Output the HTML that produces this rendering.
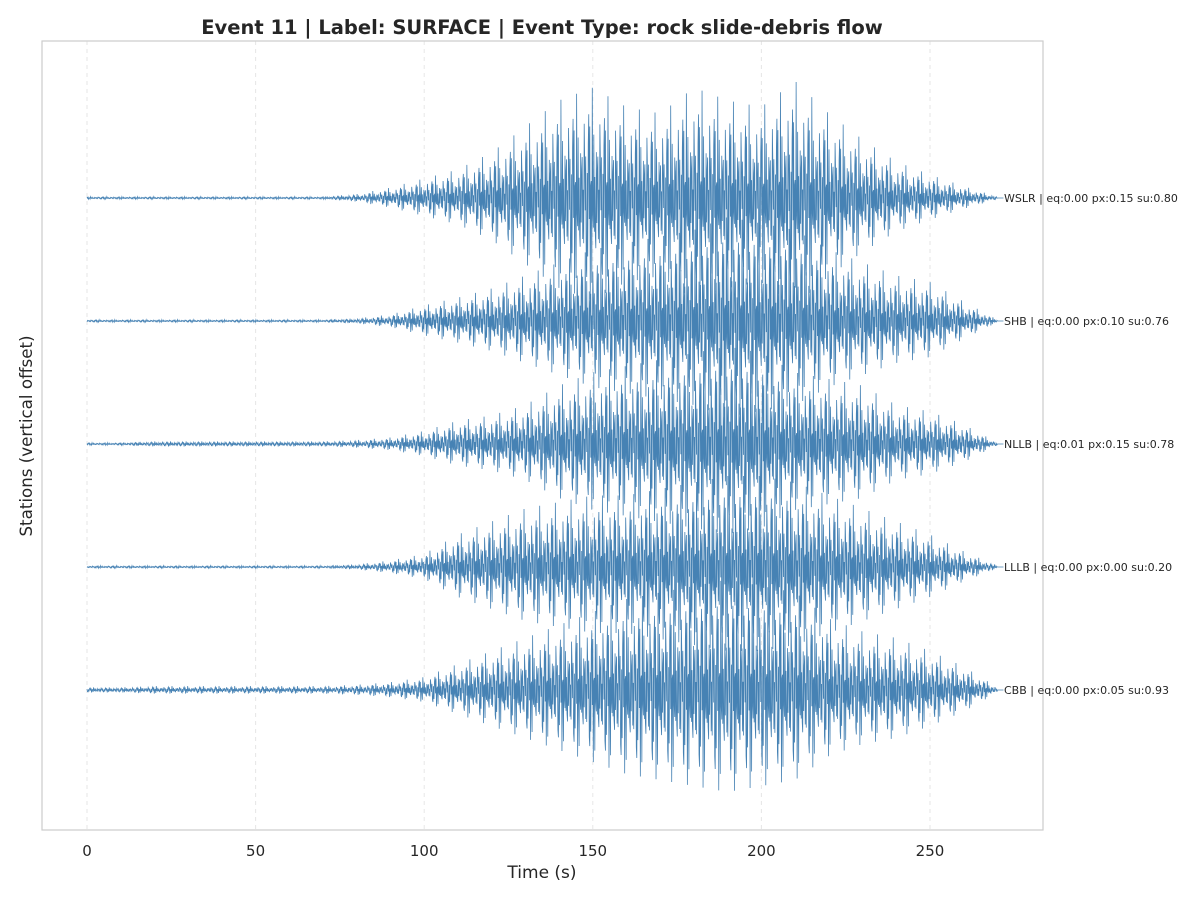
<!DOCTYPE html>
<html><head><meta charset="utf-8"><style>
body{margin:0;background:#fff;}
svg text{font-family:"DejaVu Sans","Liberation Sans",sans-serif;fill:#262626;}
</style></head><body>
<svg id="chart" width="1200" height="900" viewBox="0 0 1200 900" xmlns="http://www.w3.org/2000/svg">
<rect x="0" y="0" width="1200" height="900" fill="#fff"/>
<g id="grid"></g>
<g id="traces"></g>
<rect x="42" y="41" width="1001" height="789" fill="none" stroke="#cccccc" stroke-width="1.2"/>
<g id="labels"></g>
<g id="xticks"></g>
<text x="542" y="34" text-anchor="middle" font-size="19.5" font-weight="bold">Event 11 | Label: SURFACE | Event Type: rock slide-debris flow</text>
<text x="542" y="878" text-anchor="middle" font-size="17">Time (s)</text>
<text transform="translate(32,436) rotate(-90)" text-anchor="middle" font-size="16.7">Stations (vertical offset)</text>
</svg>
<script>
// envelope half-amplitudes (px) sampled every 10 s from 0 to 270 s
const stations = ["WSLR","SHB","NLLB","LLLB","CBB"];
const stationLabels = ["WSLR | eq:0.00 px:0.15 su:0.80","SHB | eq:0.00 px:0.10 su:0.76","NLLB | eq:0.01 px:0.15 su:0.78","LLLB | eq:0.00 px:0.00 su:0.20","CBB | eq:0.00 px:0.05 su:0.93"];
const envTimes = [0,10,20,30,40,50,60,70,80,90,100,110,120,130,140,150,160,170,180,190,200,210,220,230,240,250,260,270];
const envWSLR = [1,1,1,1,1,1,1,1,3,8,15,22,35,55,75,85,70,65,85,75,70,90,65,45,28,18,9,1];
const envSHB  = [1,1,1,1,1,1,1,1,2,5,12,18,25,35,45,55,60,65,70,80,75,70,55,45,35,30,15,1];
const envNLLB = [1,1,2,2,2,2,2,2,3,5,10,18,22,30,45,55,60,65,70,75,70,55,50,45,30,25,15,1];
const envLLLB = [1,1,1,1,1,1,1,1,2,5,10,25,35,45,50,55,55,60,65,70,70,65,55,45,35,25,12,1];
const envCBB  = [2,2,3,3,3,3,3,3,4,6,10,20,30,40,50,60,70,75,80,85,80,75,55,45,40,30,18,2];
const envs = [envWSLR,envSHB,envNLLB,envLLLB,envCBB];
const xTicks = [0,50,100,150,200,250];

const NS="http://www.w3.org/2000/svg";
const xs = t => 87 + t*(930-87)/250;
const ys = i => 198 + i*123;
function env(e,t){const k=Math.min(Math.floor(t/10),e.length-2);const f=(t-envTimes[k])/10;return e[k]*(1-f)+e[k+1]*f;}
const pattern=[1,-0.35,0.5,-0.95,0.2,-0.6,0.45,-0.25,0.75,-0.5,0.3,-1,0.55,-0.15,0.85,-0.4,0.1,-0.7,1.3,-0.3,0.5,-1.2,0.25,-0.55,0.65,-0.2,0.35,-0.8,0.15,-0.45,0.9];

const grid=document.getElementById('grid'), xt=document.getElementById('xticks');
xTicks.forEach(v=>{
  const l=document.createElementNS(NS,'line');
  l.setAttribute('x1',xs(v));l.setAttribute('x2',xs(v));l.setAttribute('y1',41);l.setAttribute('y2',830);
  l.setAttribute('stroke','#e6e6e6');l.setAttribute('stroke-dasharray','4,4');
  
  
  grid.appendChild(l);
  const t=document.createElementNS(NS,'text');
  t.setAttribute('x',xs(v));t.setAttribute('y',856);t.setAttribute('text-anchor','middle');t.setAttribute('font-size','15');
  t.textContent=v;
  
  
  xt.appendChild(t);
});

const tr=document.getElementById('traces'), lb=document.getElementById('labels');
stations.forEach((s,i)=>{
  const e=envs[i]; let d=''; let n=0;
  for(let t=0;t<=270;t+=0.15){
    const a=env(e,t)*pattern[(n*7+i*5)%pattern.length];
    d+=(n?'L':'M')+xs(t).toFixed(2)+','+(ys(i)-a).toFixed(2);
    n++;
  }
  d+='L'+xs(270)+','+ys(i)+'L'+(xs(270)+6)+','+ys(i);
  const p=document.createElementNS(NS,'path');
  p.setAttribute('d',d);p.setAttribute('fill','none');p.setAttribute('stroke','#4682b4');p.setAttribute('stroke-width','0.8');
  
  
  tr.appendChild(p);
  const t=document.createElementNS(NS,'text');
  t.setAttribute('x',1004);t.setAttribute('y',ys(i)+4);t.setAttribute('font-size','11');
  t.textContent=stationLabels[i];
  
  
  lb.appendChild(t);
});
</script>
</body></html>
